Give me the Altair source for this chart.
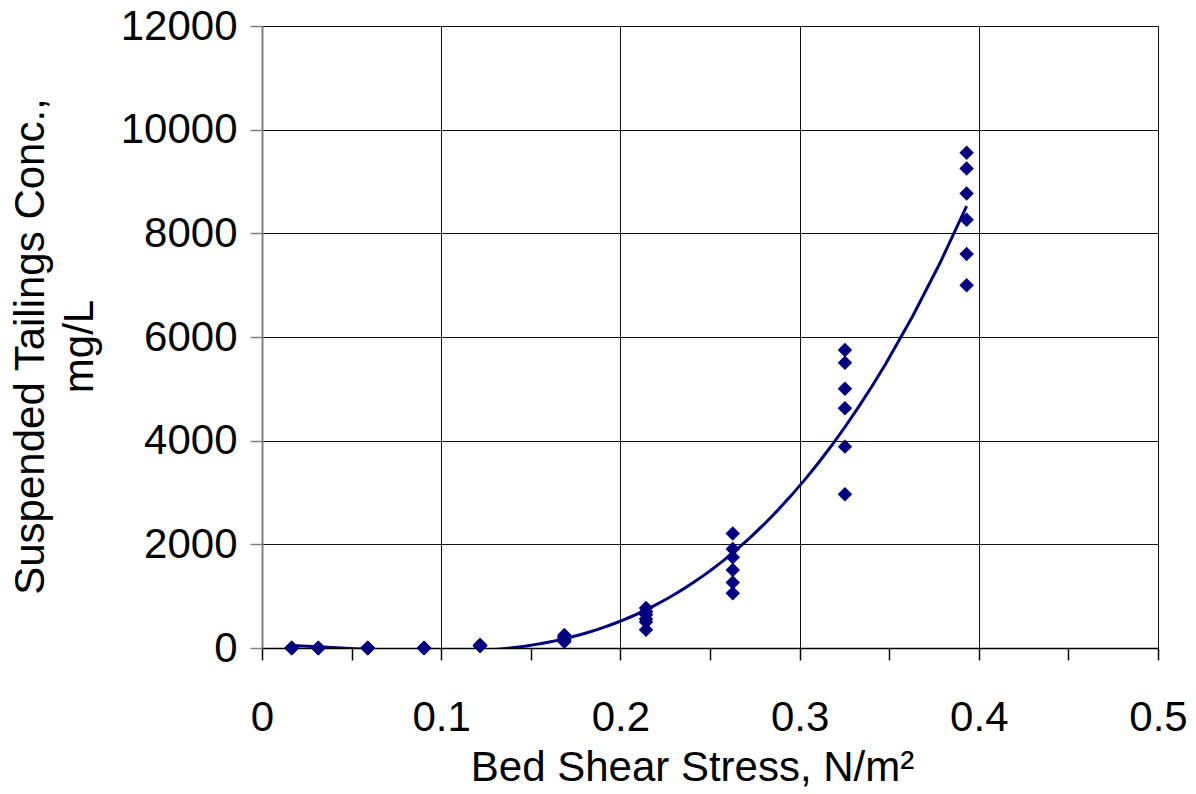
import altair as alt
import pandas as pd

# Bed shear stress (N/m^2) for each measurement group
stress = [0.0166, 0.0314, 0.059, 0.0904, 0.1217, 0.1687, 0.2143, 0.2627, 0.3253, 0.3932]
# Suspended tailings concentration (mg/L) observed at each stress
conc = [
    [0, 0, 0, 0, 0, 0],
    [0, 0, 0, 0, 0, 0],
    [0, 0, 0, 0, 0, 0],
    [0, 0, 0, 0, 0, 0],
    [60, 55, 50, 50, 45, 40],
    [250, 220, 200, 180, 150, 120],
    [770, 700, 640, 560, 500, 350],
    [2210, 1910, 1750, 1505, 1265, 1055],
    [5750, 5505, 5000, 4625, 3885, 2965],
    [9555, 9250, 8770, 8260, 7600, 7000],
]
x_ticks = [0, 0.05, 0.1, 0.15, 0.2, 0.25, 0.3, 0.35, 0.4, 0.45, 0.5]
y_ticks = [0, 2000, 4000, 6000, 8000, 10000, 12000]

rows = []
for s, cs in zip(stress, conc):
    for c in cs:
        rows.append({"stress": s, "conc": c})
df = pd.DataFrame(rows)

FONT = "Liberation Sans"
NAVY = "#000080"
major = "round(datum.value*100) % 10 == 0"

x_enc = alt.X(
    "stress:Q",
    scale=alt.Scale(domain=[0, 0.5], nice=False, zero=True),
    axis=alt.Axis(
        values=x_ticks,
        labelExpr=f"{major} ? format(datum.value, '.1~f') : ''",
        title="Bed Shear Stress, N/m²",
        titleX=430,
        titleY=132,
        titleAlign="center",
        titleBaseline="alphabetic",
        grid=True,
        gridColor="#111111",
        gridWidth=1,
        gridOpacity={"condition": {"test": major, "value": 1}, "value": 0},
        tickSize=12,
        tickColor="#000000",
        tickWidth=1.5,
        domainColor="#000000",
        domainWidth=1.5,
        labelPadding=37,
        labelFontSize=42,
        titleFontSize=42,
        labelFont=FONT,
        titleFont=FONT,
        labelColor="#000000",
        titleColor="#000000",
        titleFontWeight="normal",
        labelFlush=False,
        labelOverlap=False,
    ),
)
y_enc = alt.Y(
    "conc:Q",
    scale=alt.Scale(domain=[0, 12000], nice=False),
    axis=alt.Axis(
        values=y_ticks,
        format="d",
        title=["Suspended Tailings Conc.,", "mg/L"],
        titleX=-219,
        titleY=320,
        titleAngle=-90,
        titleAlign="center",
        titleBaseline="alphabetic",
        titleLineHeight=49,
        grid=True,
        gridColor="#111111",
        gridWidth=1,
        tickSize=12,
        tickColor="#808080",
        tickWidth=1.5,
        domainColor="#808080",
        domainWidth=2,
        labelPadding=13,
        labelFontSize=42,
        titleFontSize=42,
        labelFont=FONT,
        titleFont=FONT,
        labelColor="#000000",
        titleColor="#000000",
        titleFontWeight="normal",
        labelFlush=False,
        labelOverlap=False,
    ),
)

points = alt.Chart(df).mark_point(
    shape="diamond", filled=True, size=210, color=NAVY, opacity=1
).encode(x=x_enc, y=y_enc)

trend = alt.Chart(df).transform_regression(
    "stress", "conc", method="poly", order=3
).mark_line(color=NAVY, strokeWidth=3, clip=True).encode(
    x=alt.X("stress:Q"), y=alt.Y("conc:Q")
)

chart = alt.layer(trend, points).properties(
    width=896,
    height=622,
    autosize=alt.AutoSizeParams(type="none"),
    padding={"left": 254, "top": 18, "right": 30, "bottom": 144},
).configure_view(stroke="#808080", strokeWidth=2).configure(background="white")

chart.save("out.html", embed_options={"renderer": "svg", "actions": False})
